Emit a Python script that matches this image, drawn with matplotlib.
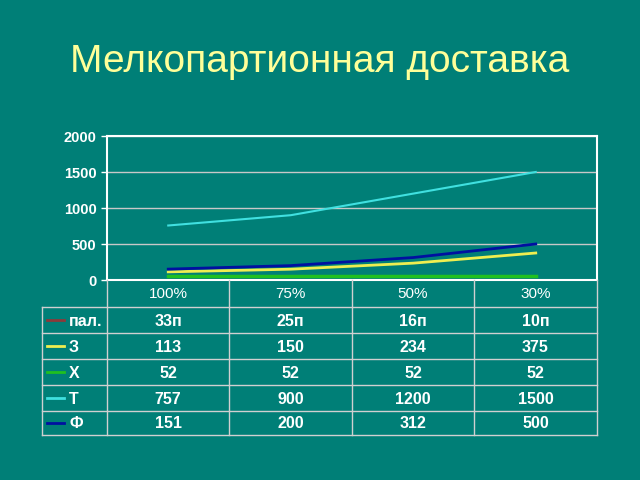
import numpy as np
import matplotlib.pyplot as plt

plt.rcParams['font.family'] = ['Liberation Sans', 'DejaVu Sans']

BG = '#007F77'
GRID = '#C8C8C8'
TXT = 'white'

categories = ['100%', '75%', '50%', '30%']
row_names = ['пал.', 'З', 'Х', 'Т', 'Ф']
pal = ['33п', '25п', '16п', '10п']
z = [113, 150, 234, 375]
h = [52, 52, 52, 52]
t = [757, 900, 1200, 1500]
f = [151, 200, 312, 500]
colors = ['#8B3A3A', '#EEEE50', '#20C020', '#40E0E0', '#0010A0']

fig = plt.figure(figsize=(6.4, 4.8), dpi=100, facecolor=BG)
fig.text(0.5, 1 - 62 / 480, 'Мелкопартионная доставка', ha='center', va='center',
         fontsize=28, color='#FFFF99')

# chart area
ax = fig.add_axes([107 / 640, 1 - 280 / 480, 490 / 640, 144 / 480])
ax.set_facecolor(BG)
x = np.arange(len(categories))
series = [z, h, t, f]
for vals, c, lw in zip(series, colors[1:], [2, 2.5, 1.5, 2]):
    ax.plot(x, vals, color=c, lw=lw)
ax.set_xlim(-0.5, 3.5)
ax.set_ylim(0, 2000)
ax.set_yticks([0, 500, 1000, 1500, 2000])
ax.set_xticks([])
ax.grid(axis='y', color=GRID, lw=1)
ax.set_axisbelow(True)
for s in ax.spines.values():
    s.set_color('white')
    s.set_linewidth(1.5)
ax.tick_params(axis='y', colors=TXT, labelsize=10.5, length=4, width=1)
for lab in ax.get_yticklabels():
    lab.set_fontweight('bold')

# data table under the chart, in pixel coordinates
tb = fig.add_axes([0, 0, 1, 1])
tb.set_xlim(0, 640)
tb.set_ylim(480, 0)
tb.axis('off')
cols = [107, 229, 352, 474, 597]
rows = [280, 307, 333, 359, 385, 411, 435]
lc = '#D0D0D0'
for i, cx in enumerate(cols):
    tb.plot([cx, cx], [rows[0], rows[-1]], color=lc, lw=1)
tb.plot([42, 42], [rows[1], rows[-1]], color=lc, lw=1)
for ry in rows[1:]:
    tb.plot([42, 597], [ry, ry], color=lc, lw=1)

for j, cat in enumerate(categories):
    cx = (cols[j] + cols[j + 1]) / 2
    tb.text(cx, (rows[0] + rows[1]) / 2 + 1, cat, ha='center', va='center',
            color=TXT, fontsize=11)

table_vals = [pal, z, h, t, f]
for i, (name, vals) in enumerate(zip(row_names, table_vals)):
    cy = (rows[i + 1] + rows[i + 2]) / 2
    tb.plot([47, 64], [cy, cy], color=colors[i], lw=2)
    tb.text(69, cy + 1, name, ha='left', va='center', color=TXT, fontsize=11.5,
            fontweight='bold')
    for j, v in enumerate(vals):
        cx = (cols[j] + cols[j + 1]) / 2
        tb.text(cx, cy + 1, str(v), ha='center', va='center', color=TXT,
                fontsize=11.5, fontweight='bold')

fig.savefig('out.png', dpi=100, facecolor=BG)
